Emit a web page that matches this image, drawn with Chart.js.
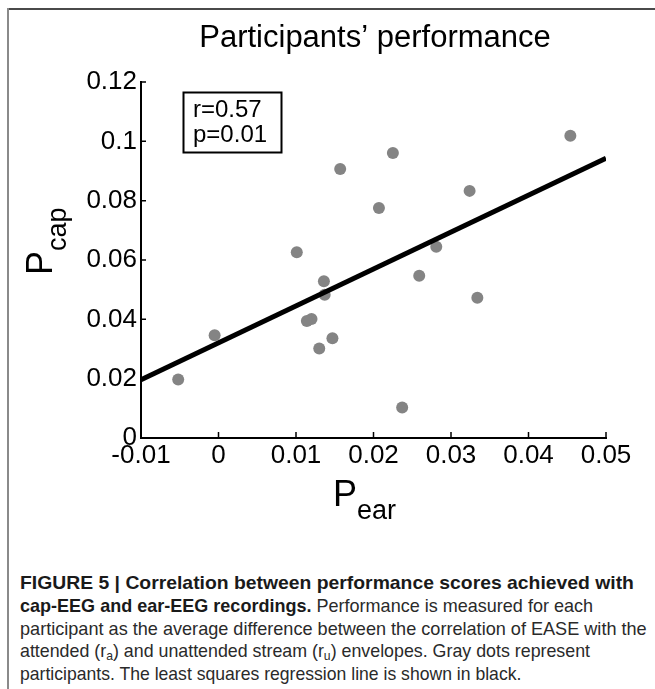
<!DOCTYPE html>
<html>
<head>
<meta charset="utf-8">
<script src="https://cdn.jsdelivr.net/npm/chart.js@4.4.1/dist/chart.umd.min.js"></script>
<style>
  html, body { margin: 0; padding: 0; background: #fff; }
  #page { position: relative; width: 655px; height: 689px; overflow: hidden; background: #fff; }
  #frameTop { position: absolute; left: 7px; top: 8px; width: 648px; height: 2px; background: #4a4a4a; }
  #frameLeft { position: absolute; left: 7px; top: 8px; width: 2px; height: 681px; background: #8a8a8a; }
  #plot { position: absolute; left: 0; top: 0; }
  #caption {
    position: absolute; left: 20px; top: 572px;
    font-family: "Liberation Sans", Arial, sans-serif; font-size: 19px; line-height: 22.8px;
    color: #2a2a2a; white-space: nowrap;
  }
  #caption b { color: #1a1a1a; }
  #caption sub { font-size: 13px; vertical-align: -3px; line-height: 0; }
  .capline { display: inline-block; transform-origin: 0 0; }
</style>
</head>
<body>
<div id="page">
  <div id="frameTop"></div>
  <div id="frameLeft"></div>
  <canvas id="plot" width="655" height="550"></canvas>
  <div id="caption">
    <div><span class="capline"><b>FIGURE 5 | Correlation between performance scores achieved with</b></span></div>
    <div><span class="capline"><b>cap-EEG and ear-EEG recordings.</b> Performance is measured for each</span></div>
    <div><span class="capline">participant as the average difference between the correlation of EASE with the</span></div>
    <div><span class="capline">attended (r<sub>a</sub>) and unattended stream (r<sub>u</sub>) envelopes. Gray dots represent</span></div>
    <div><span class="capline">participants. The least squares regression line is shown in black.</span></div>
  </div>
</div>
<script>
// participants (P_ear, P_cap)
var pEar = [0.0454, 0.0225, 0.0157, 0.0324, 0.0207, 0.0101, 0.0281, 0.0136, 0.0259,
            0.0137, 0.0334, 0.0120, 0.0114, 0.0147, 0.0130, -0.0005, 0.0237, -0.0052];
var pCap = [0.1019, 0.0961, 0.0907, 0.0833, 0.0775, 0.0626, 0.0645, 0.0528, 0.0547,
            0.0483, 0.0473, 0.0401, 0.0394, 0.0336, 0.0302, 0.0346, 0.0103, 0.0197];

// least squares line end points
var fitX = [-0.01, 0.05];
var fitY = [0.0196, 0.0943];

var xTickValues = [-0.01, 0, 0.01, 0.02, 0.03, 0.04, 0.05];
var xTickLabels = ['-0.01', '0', '0.01', '0.02', '0.03', '0.04', '0.05'];
var yTickValues = [0, 0.02, 0.04, 0.06, 0.08, 0.1, 0.12];
var yTickLabels = ['0', '0.02', '0.04', '0.06', '0.08', '0.1', '0.12'];

var statLines = ['r=0.57', 'p=0.01'];
var titleText = 'Participants\u2019 performance';

var FONT = '"Liberation Sans", Arial, sans-serif';

function toPoints(xs, ys) {
    return xs.map(function (x, i) { return { x: x, y: ys[i] }; });
}

var decorations = {
    id: 'decorations',
    afterDraw: function (c) {
        var ctx = c.ctx, area = c.chartArea;
        var xs = c.scales.x, ys = c.scales.y;
        ctx.save();

        // inward tick marks
        ctx.strokeStyle = '#000';
        ctx.lineWidth = 1.5;
        ctx.beginPath();
        xTickValues.forEach(function (v) {
            var px = xs.getPixelForValue(v);
            ctx.moveTo(px, area.bottom);
            ctx.lineTo(px, area.bottom - 6);
        });
        yTickValues.forEach(function (v) {
            var py = ys.getPixelForValue(v);
            ctx.moveTo(area.left, py);
            ctx.lineTo(area.left + 5, py);
        });
        ctx.stroke();

        // title
        ctx.fillStyle = '#000';
        ctx.font = '31px ' + FONT;
        ctx.textAlign = 'center';
        ctx.textBaseline = 'alphabetic';
        ctx.fillText(titleText, 375, 47);

        // stats box
        ctx.lineWidth = 2;
        ctx.strokeRect(area.left + 42.5, area.top + 10.5, 98, 60);
        ctx.textAlign = 'left';
        ctx.font = '24px ' + FONT;
        ctx.fillText(statLines[0], area.left + 52, area.top + 35);
        ctx.fillText(statLines[1], area.left + 52, area.top + 59.5);

        // x axis title P_ear
        ctx.font = '36px ' + FONT;
        ctx.fillText('P', 333, 506);
        var pw = ctx.measureText('P').width;
        ctx.font = '27px ' + FONT;
        ctx.fillText('ear', 333 + pw, 519);

        // y axis title P_cap (rotated)
        ctx.translate(52, 275);
        ctx.rotate(-Math.PI / 2);
        ctx.font = '36px ' + FONT;
        ctx.fillText('P', 0, 0);
        pw = ctx.measureText('P').width;
        ctx.font = '27px ' + FONT;
        ctx.fillText('cap', pw, 14);

        ctx.restore();
    }
};

new Chart(document.getElementById('plot').getContext('2d'), {
    type: 'scatter',
    data: {
        datasets: [{
            label: 'fit',
            data: toPoints(fitX, fitY),
            showLine: true,
            borderColor: '#000',
            borderWidth: 5,
            pointRadius: 0,
            fill: false,
            order: 0
        }, {
            label: 'participants',
            data: toPoints(pEar, pCap),
            backgroundColor: '#848484',
            borderWidth: 0,
            pointRadius: 6,
            order: 1
        }]
    },
    options: {
        responsive: false,
        animation: false,
        devicePixelRatio: 1,
        layout: { padding: { left: 0, top: 82, right: 49, bottom: 72 } },
        plugins: { legend: { display: false }, tooltip: { enabled: false }, title: { display: false } },
        scales: {
            x: {
                type: 'linear', min: -0.01, max: 0.05,
                grid: { display: false, drawTicks: false },
                border: { display: true, color: '#000', width: 2 },
                afterBuildTicks: function (s) { s.ticks = xTickValues.map(function (v) { return { value: v }; }); },
                afterFit: function (s) { s.height = 40; },
                ticks: {
                    color: '#000', padding: 2, autoSkip: false, maxRotation: 0,
                    font: { family: FONT, size: 26 },
                    callback: function (v, i) { return xTickLabels[i]; }
                }
            },
            y: {
                type: 'linear', min: 0, max: 0.12,
                grid: { display: false, drawTicks: false },
                border: { display: true, color: '#000', width: 2 },
                afterBuildTicks: function (s) { s.ticks = yTickValues.map(function (v) { return { value: v }; }); },
                afterFit: function (s) { s.width = 141; },
                ticks: {
                    color: '#000', padding: 4, autoSkip: false,
                    font: { family: FONT, size: 26 },
                    callback: function (v, i) { return yTickLabels[i]; }
                }
            }
        }
    },
    plugins: [decorations]
});

// fit each caption line to the width it has in the reference (offsetWidth ignores transforms)
var lineWidths = [614, 573, 627, 570, 501];
document.querySelectorAll('.capline').forEach(function (el, i) {
    el.style.transform = 'scaleX(' + (lineWidths[i] / el.offsetWidth) + ')';
});
</script>
</body>
</html>
